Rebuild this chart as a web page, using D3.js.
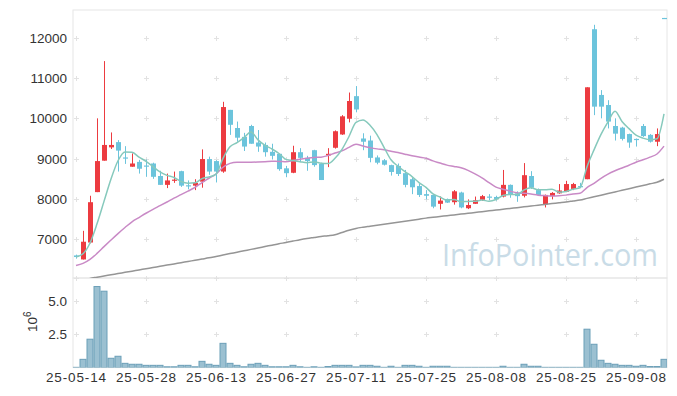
<!DOCTYPE html>
<html><head><meta charset="utf-8">
<script src="https://cdn.jsdelivr.net/npm/d3@7"></script>
<style>body{margin:0;background:#fff}svg{display:block}</style>
</head><body><svg id="c" width="677" height="396"></svg>
<script>
const dates = ["2025-05-14","2025-05-15","2025-05-16","2025-05-19","2025-05-20","2025-05-21","2025-05-22","2025-05-23","2025-05-26","2025-05-27","2025-05-28","2025-05-29","2025-05-30",
"2025-06-02","2025-06-04","2025-06-05","2025-06-09","2025-06-10","2025-06-11","2025-06-12","2025-06-13","2025-06-16","2025-06-17","2025-06-18","2025-06-19","2025-06-20","2025-06-23","2025-06-24","2025-06-25","2025-06-26","2025-06-27","2025-06-30",
"2025-07-01","2025-07-02","2025-07-03","2025-07-04","2025-07-07","2025-07-08","2025-07-09","2025-07-10","2025-07-11","2025-07-14","2025-07-15","2025-07-16","2025-07-17","2025-07-18","2025-07-21","2025-07-22","2025-07-23","2025-07-24","2025-07-25","2025-07-28","2025-07-29","2025-07-30","2025-07-31",
"2025-08-01","2025-08-04","2025-08-05","2025-08-06","2025-08-07","2025-08-08","2025-08-11","2025-08-12","2025-08-13","2025-08-14","2025-08-18","2025-08-19","2025-08-20","2025-08-21","2025-08-22","2025-08-25","2025-08-26","2025-08-27","2025-08-28","2025-08-29",
"2025-09-01","2025-09-02","2025-09-03","2025-09-04","2025-09-05","2025-09-08","2025-09-09","2025-09-10","2025-09-11","2025-09-12"];

const open  = [6600,6500,6920,8170,8950,9280,9410,9030,8800,8920,8830,8880,8570,8350,8460,8690,8340,8330,8430,8990,8940,8680,10210,9760,9540,9810,9400,9340,9170,9120,8760,8650,9160,9020,9210,8870,9080,9270,9600,9990,10550,9500,9450,9030,8960,8840,8820,8640,8490,8320,8120,8100,7880,8000,7920,8160,7770,7880,7980,8060,8050,8060,8350,8140,8080,8570,8220,7870,8070,8140,8180,8250,8320,8490,12210,10580,10330,9810,9770,9610,9490,9810,9590,9420,12490];
const high  = [6620,7210,8080,10000,11420,9650,9460,9310,9130,8970,8980,8900,8700,8630,8680,8700,8460,8490,9230,9050,8960,10410,10210,9920,9640,9840,9710,9400,9370,9120,8820,9320,9260,9070,9220,8900,9260,9700,10080,10640,10800,9630,9570,9080,8990,8850,8880,8720,8520,8380,8220,8100,8060,8010,8220,8180,7990,8060,8100,8120,8080,8720,8360,8190,8890,8690,8260,8110,8170,8370,8450,8400,8400,10770,12320,10700,10450,10000,9790,9620,9500,9860,9610,9750,12490];
const low   = [6520,6500,6900,8170,8950,9240,8680,8870,8800,8630,8550,8500,8350,8270,8400,8300,8240,8220,8280,8600,8410,8650,9590,9420,9190,9370,9170,9050,8980,8700,8540,8640,8920,8700,8800,8470,8790,9250,9590,9900,10150,9210,8910,8860,8830,8580,8570,8290,8120,8050,7990,7770,7740,7900,7860,7770,7750,7880,7950,7970,7960,8040,8030,7930,8040,8250,8080,7790,7990,8130,8170,8220,8270,8490,10080,10000,9750,9450,9450,9270,9300,9540,9400,9310,12490];
const close = [6560,6940,7920,8940,9340,9340,9200,9020,8880,8750,8820,8550,8350,8460,8480,8330,8330,8400,8990,8680,8680,10280,9840,9520,9300,9370,9300,9160,9070,8740,8640,9160,9020,8940,8840,8470,9120,9680,10050,10430,10220,9420,9020,8900,8850,8670,8620,8350,8290,8100,8080,7810,7960,7910,8190,7790,7850,7970,8070,8040,8000,8350,8100,8070,8590,8280,8100,8100,8150,8210,8370,8370,8290,10770,10290,10290,9920,9620,9490,9400,9480,9560,9420,9610,12490];
const volume = [20000,620000,2130000,6080000,5730000,700000,850000,320000,250000,250000,170000,170000,170000,60000,60000,170000,170000,60000,470000,250000,170000,1820000,320000,170000,60000,250000,320000,170000,60000,60000,60000,170000,60000,20000,60000,20000,80000,170000,170000,170000,50000,170000,170000,100000,20000,100000,20000,170000,170000,100000,20000,100000,100000,100000,20000,20000,20000,20000,20000,20000,20000,100000,20000,20000,250000,100000,100000,20000,20000,20000,20000,20000,20000,2880000,1750000,550000,320000,250000,170000,170000,100000,170000,80000,80000,620000];
// closes of the 19 sessions before the first shown day (for the moving averages)
const priorCloses = [5900,5950,6000,5980,6050,6000,6020,6030,6650,6700,6600,6550,6620,6580,6600,6550,6580,6560,6560];
// long moving average (grey line)
const maLong = [5960,5990,6030,6060,6090,6120,6150,6180,6210,6240,6270,6300,6330,6360,6390,6420,6450,6480,6510,6540,6575,6610,6645,6680,6715,6750,6785,6820,6855,6890,6920,6955,6990,7020,7045,7070,7090,7115,7170,7225,7270,7300,7325,7350,7375,7400,7425,7450,7475,7500,7525,7545,7565,7585,7605,7625,7645,7665,7685,7705,7725,7745,7765,7785,7805,7825,7845,7865,7885,7905,7925,7950,7975,8015,8055,8095,8135,8175,8215,8255,8295,8335,8375,8415,8490];
const priceTicks = [7000,8000,9000,10000,11000,12000];
const volTicks = [2500000,5000000];
const xTickIdx = [0,10,20,30,40,50,60,70,80];

const svg = d3.select("#c");
const L = 73, R = 667, T = 10, M = 278, B = 367.6;
const font = "'Liberation Sans', Arial, sans-serif";

const x = d3.scaleBand().domain(dates).range([L - 0.5, L - 0.5 + dates.length * 7]).padding(0);
const cx = d => x(d) + x.bandwidth() / 2;
const y = d3.scaleLinear().domain([6040, 12687]).range([M, T]);
const yv = d3.scaleLinear().domain([0, 6720000]).range([B, M]);

const allCloses = priorCloses.concat(close);
function ma(n) {
  return close.map((c, i) => {
    const j = i + priorCloses.length;
    return d3.mean(allCloses.slice(j - n + 1, j + 1));
  });
}
const ma5 = ma(5), ma20 = ma(20);

svg.append("defs").append("clipPath").attr("id", "pc")
  .append("rect").attr("x", L).attr("y", T).attr("width", R - L).attr("height", M - T);
svg.select("defs").append("clipPath").attr("id", "vc")
  .append("rect").attr("x", L).attr("y", M).attr("width", R - L).attr("height", B - M);

// watermark
svg.append("text").attr("x", 442).attr("y", 266).attr("font-family", "'Open Sans', sans-serif")
  .attr("font-size", 31).attr("fill", "#c9dce7").attr("textLength", 216).attr("lengthAdjust", "spacingAndGlyphs")
  .text("InfoPointer.com");

// panel borders
svg.append("rect").attr("x", L).attr("y", T).attr("width", R - L).attr("height", M - T)
  .attr("fill", "none").attr("stroke", "#e6e6e6");
svg.append("rect").attr("x", L).attr("y", M).attr("width", R - L).attr("height", B - M)
  .attr("fill", "none").attr("stroke", "#e6e6e6");

// grid crosses
const crossG = svg.append("g").attr("stroke", "#e2e2e2").attr("stroke-width", 1);
function cross(px, py) {
  crossG.append("line").attr("x1", px - 2.5).attr("x2", px + 2.5).attr("y1", py).attr("y2", py);
  crossG.append("line").attr("x1", px).attr("x2", px).attr("y1", py - 2.5).attr("y2", py + 2.5);
}
xTickIdx.forEach(i => {
  const px = Math.round(cx(dates[i])) + 0.5;
  priceTicks.forEach(v => cross(px, Math.round(y(v)) + 0.5));
  volTicks.forEach(v => cross(px, Math.round(yv(v)) + 0.5));
  cross(px, M + 0.5);
});

// candles
const cg = svg.append("g").attr("clip-path", "url(#pc)");
const up = "#ec3b40", down = "#6cc4dc";
dates.forEach((d, i) => {
  const col = close[i] > open[i] ? up : down;
  const xc = Math.round(cx(d));
  cg.append("rect").attr("x", xc).attr("width", 1)
    .attr("y", y(high[i])).attr("height", Math.max(1, y(low[i]) - y(high[i]))).attr("fill", col);
  const top = y(Math.max(open[i], close[i])), bot = y(Math.min(open[i], close[i]));
  cg.append("rect").attr("x", xc - 2).attr("width", 5)
    .attr("y", top).attr("height", Math.max(1.2, bot - top)).attr("fill", col);
});

// MA lines
const line = d3.line().x((v, i) => cx(dates[i])).y(v => y(v)).curve(d3.curveMonotoneX);
const lg = svg.append("g").attr("clip-path", "url(#pc)").attr("fill", "none").attr("stroke-width", 1.5);
lg.append("path").attr("d", line(maLong)).attr("stroke", "#959595");
lg.append("path").attr("d", line(ma20)).attr("stroke", "#c98ac6");
lg.append("path").attr("d", line(ma5)).attr("stroke", "#86c9bc");

// volume bars
svg.append("g").attr("clip-path", "url(#vc)").selectAll("rect").data(volume).join("rect")
  .attr("x", (v, i) => x(dates[i]) + 0.5).attr("width", x.bandwidth() - 1)
  .attr("y", v => yv(v)).attr("height", v => B - yv(v))
  .attr("fill", "#9bc0d1").attr("stroke", "#6b9fb8").attr("stroke-width", 1);

// axis labels
const tg = svg.append("g").attr("font-family", font).attr("font-size", 13.5).attr("fill", "#333");
priceTicks.forEach(v => tg.append("text").attr("x", 67).attr("y", y(v)).attr("dy", "0.36em")
  .attr("text-anchor", "end").text(v));
volTicks.forEach(v => tg.append("text").attr("x", 67).attr("y", yv(v)).attr("dy", "0.36em")
  .attr("text-anchor", "end").text((v / 1e6).toFixed(1)));
xTickIdx.forEach(i => tg.append("text").attr("x", cx(dates[i]) - 30).attr("y", 382)
  .attr("textLength", 60).attr("lengthAdjust", "spacing").text(dates[i].slice(2)));
const ex = tg.append("text").attr("transform", "translate(37,332) rotate(-90)");
ex.append("tspan").text("10");
ex.append("tspan").attr("dy", -6).attr("font-size", 10).text("6");
</script></body></html>
